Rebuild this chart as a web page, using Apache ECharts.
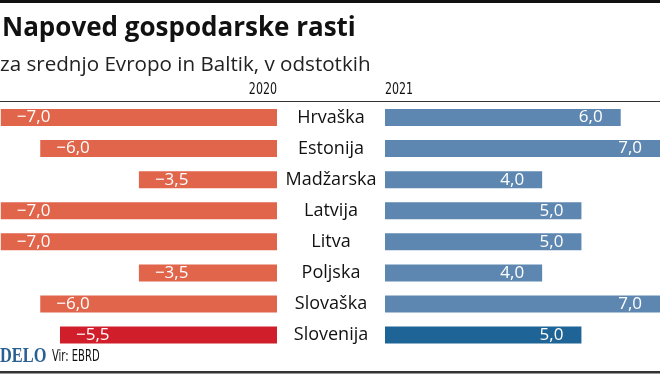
<!DOCTYPE html>
<html><head><meta charset="utf-8">
<script src="https://cdn.jsdelivr.net/npm/echarts@6/dist/echarts.min.js"></script>
<style>html,body{margin:0;padding:0;background:#fff}#c{width:660px;height:377px}</style>
</head><body><div id="c"></div>
<script>
var countries = ['Hrvaška','Estonija','Madžarska','Latvija','Litva','Poljska','Slovaška','Slovenija'];
var growth2020 = [-7.0, -6.0, -3.5, -7.0, -7.0, -3.5, -6.0, -5.5];
var growth2021 = [6.0, 7.0, 4.0, 5.0, 5.0, 4.0, 7.0, 5.0];
var yearLabels = ['2020', '2021'];
var highlight = 'Slovenija';

var FONT = '"Open Sans", "Noto Sans", sans-serif';
var NARROW = '"DejaVu Sans Condensed", "Liberation Sans Narrow", sans-serif';
function fmt(v){ return v.toFixed(1).replace('-', '\u2212').replace('.', ','); }

var chart = echarts.init(document.getElementById('c'), null, {renderer:'canvas'});
var gTop = 102, gBottom = 377 - 350.6;
chart.setOption({
  animation: false,
  backgroundColor: '#fff',
  grid: [
    {left: 0, width: 277, top: gTop, bottom: gBottom},
    {left: 385, right: 0, top: gTop, bottom: gBottom}
  ],
  xAxis: [
    {gridIndex: 0, type: 'value', min: -7.02, max: 0, show: false},
    {gridIndex: 1, type: 'value', min: 0, max: 7, show: false}
  ],
  yAxis: [
    {gridIndex: 0, type: 'category', data: countries, inverse: true, position: 'right',
     axisLine: {show: false}, axisTick: {show: false}, splitLine: {show: false},
     axisLabel: {show: true, align: 'center', margin: 54, fontFamily: FONT, fontSize: 18, color: '#111'}},
    {gridIndex: 1, type: 'category', data: countries, inverse: true, show: false}
  ],
  series: [
    {type: 'bar', xAxisIndex: 0, yAxisIndex: 0, barWidth: 17,
     data: growth2020.map(function(v, i){
       return {value: v, itemStyle: {color: countries[i] === highlight ? '#D01F2A' : '#E0654B'}};
     }),
     label: {show: true, position: 'insideLeft', distance: 16, color: '#fff', fontFamily: FONT, fontSize: 17,
       formatter: function(p){ return fmt(p.value); }}},
    {type: 'bar', xAxisIndex: 1, yAxisIndex: 1, barWidth: 17,
     data: growth2021.map(function(v, i){
       return {value: v, itemStyle: {color: countries[i] === highlight ? '#1F6496' : '#5D87B1'}};
     }),
     label: {show: true, position: 'insideRight', distance: 18, color: '#fff', fontFamily: FONT, fontSize: 17,
       formatter: function(p){ return fmt(p.value); }}}
  ],
  graphic: [
    {type: 'text', x: 2, y: 29, style: {text: 'Napoved gospodarske rasti', verticalAlign: 'middle',
       font: 'bold 26px ' + FONT, fill: '#111'}},
    {type: 'text', x: 0, y: 65, style: {text: 'za srednjo Evropo in Baltik, v odstotkih', verticalAlign: 'middle',
       font: '20.6px ' + FONT, fill: '#222'}},
    {type: 'rect', shape: {x: 0, y: 0, width: 660, height: 3}, style: {fill: '#111'}},
    {type: 'rect', shape: {x: 0, y: 371, width: 660, height: 2.5}, style: {fill: '#333'}},
    {type: 'rect', shape: {x: 0, y: 101, width: 660, height: 1}, style: {fill: '#333'}},
    {type: 'text', x: 277, y: 98, scaleX: 0.82, style: {text: yearLabels[0], align: 'right', verticalAlign: 'bottom',
       font: '15px ' + NARROW, fill: '#111'}},
    {type: 'text', x: 385, y: 98, scaleX: 0.82, style: {text: yearLabels[1], align: 'left', verticalAlign: 'bottom',
       font: '15px ' + NARROW, fill: '#111'}},
    {type: 'text', x: 0, y: 357, scaleX: 0.78, style: {text: 'DELO', verticalAlign: 'middle',
       font: 'bold 21px "Liberation Serif", "DejaVu Serif", serif', fill: '#2A5F93'}},
    {type: 'text', x: 52, y: 357, scaleX: 0.74, style: {text: 'Vir: EBRD', verticalAlign: 'middle',
       font: '15px ' + NARROW, fill: '#111'}}
  ]
});
</script></body></html>
